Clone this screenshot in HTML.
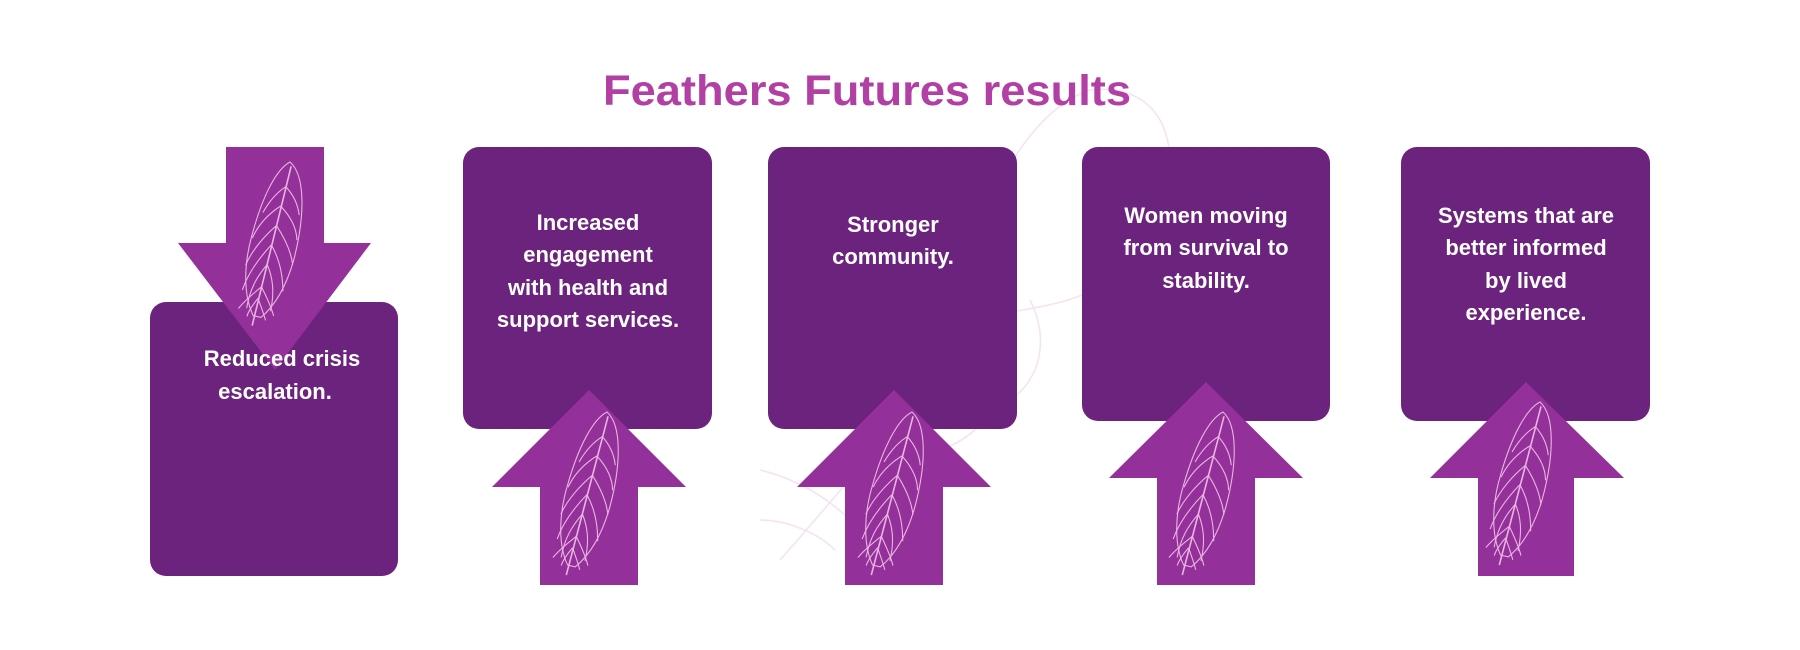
<!DOCTYPE html>
<html><head><meta charset="utf-8"><style>
html,body{margin:0;padding:0;background:#fff;}
svg{display:block}
text{font-family:"Liberation Sans",sans-serif;font-weight:bold;}
</style></head><body>
<svg width="1800" height="650" viewBox="0 0 1800 650" xmlns="http://www.w3.org/2000/svg">
<defs>
<g id="fth" fill="none" stroke="#e9b5e0" stroke-width="1.1">
  <path d="M0,0 C18,10 26,50 24,95 C22,125 14,145 4,158 L-4,158 C-18,140 -24,110 -22,80 C-20,40 -12,10 0,0 Z"/>
  <path d="M2,4 L-3,168" stroke-width="1.6"/>
  <path d="M1,25 C8,30 16,38 20,50 M0,45 C10,52 20,62 23,75 M0,65 C10,75 20,88 24,100 M-1,85 C8,95 16,110 20,128 M-1,105 C6,115 12,128 12,150 M1,25 C-6,32 -12,42 -16,55 M0,45 C-10,55 -18,68 -21,82 M0,65 C-10,78 -19,95 -22,110 M-1,85 C-10,100 -18,118 -20,135 M-1,105 C-8,118 -13,132 -12,152"/>
  <path d="M-2,128 C-10,138 -16,146 -20,154 M-2,128 C6,138 12,146 16,154 M-3,140 C-7,148 -10,155 -10,160 M-3,140 C2,148 6,154 9,160"/>
</g>
</defs>

<g fill="none" stroke="#f5e4f0" stroke-width="1.6">
  <path d="M1090,90 C1180,80 1190,180 1140,250 C1090,320 1010,300 950,330"/>
  <path d="M1090,90 C1030,110 980,200 960,300"/>
  <path d="M1000,300 C930,380 860,470 780,560"/>
  <path d="M760,470 C800,480 830,500 850,520 M760,520 C790,520 820,535 835,550 M1010,380 C990,420 970,440 940,450 M1030,300 C1050,340 1040,380 1010,400"/>
</g>

<g fill="#6b237d">
  <rect x="150" y="302" width="248" height="274" rx="16"/>
  <rect x="463" y="147" width="249" height="282" rx="16"/>
  <rect x="768" y="147" width="249" height="282" rx="16"/>
  <rect x="1082" y="147" width="248" height="274" rx="16"/>
  <rect x="1401" y="147" width="249" height="274" rx="16"/>
</g>

<g fill="#93309a">
  <polygon points="226,147 324,147 324,243 371,243 275,370 178,243 226,243"/>
  <polygon points="589,390 686,487 638,487 638,585 540,585 540,487 492,487"/>
  <polygon points="894,390 991,487 943,487 943,585 845,585 845,487 797,487"/>
  <polygon points="1206,382 1303,478 1255,478 1255,585 1157,585 1157,478 1109,478"/>
  <polygon points="1526,382 1624,478 1574,478 1574,576 1478,576 1478,478 1430,478"/>
</g>

<use href="#fth" transform="translate(290,162) rotate(12)"/>
<use href="#fth" transform="translate(607,412) rotate(13)"/>
<use href="#fth" transform="translate(912,412) rotate(13)"/>
<use href="#fth" transform="translate(1223,412) rotate(13)"/>
<use href="#fth" transform="translate(1540,402) rotate(13)"/>

<text x="867" y="105" text-anchor="middle" fill="#b23fa4" font-size="43" textLength="528" lengthAdjust="spacingAndGlyphs">Feathers Futures results</text>

<g fill="#fff" font-size="22" text-anchor="middle">
  <text x="282" y="366">Reduced crisis</text>
  <text x="275" y="399">escalation.</text>

  <text x="588" y="230">Increased</text>
  <text x="588" y="262">engagement</text>
  <text x="588" y="295">with health and</text>
  <text x="588" y="327">support services.</text>

  <text x="893" y="232">Stronger</text>
  <text x="893" y="264">community.</text>

  <text x="1206" y="223">Women moving</text>
  <text x="1206" y="255">from survival to</text>
  <text x="1206" y="288">stability.</text>

  <text x="1526" y="223">Systems that are</text>
  <text x="1526" y="255">better informed</text>
  <text x="1526" y="288">by lived</text>
  <text x="1526" y="320">experience.</text>
</g>
</svg>
</body></html>
